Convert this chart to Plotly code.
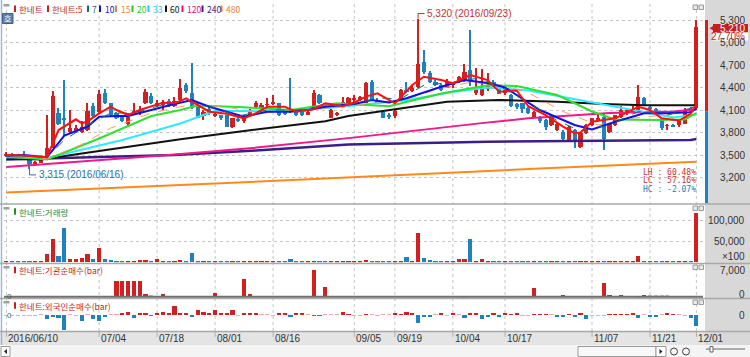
import plotly.graph_objects as go

# ---------------- data ----------------
TICK_IDX = [0, 16, 26, 36, 46, 60, 67, 77, 86, 101, 111, 119]
TICK_LABELS = ["2016/06/10", "07/04", "07/18", "08/01", "08/16", "09/05",
               "09/19", "10/04", "10/17", "11/07", "11/21", "12/01"]

OPEN = [3500,3520,3490,3490,3450,3370,3400,3460,3600,4060, 4000,3810,3820,3810,3840,4150,4080,4330,4190,4060,
        4010,3910,4050,4060,4200,4290,4160,4170,4220,4160, 4240,4440,4330,4170,4020,4110,4030,4030,4030,3880,
        3980,3950,4040,4140,4130,4170,4180,4190,4070,4110, 4090,4070,4040,4140,4300,4190,4000,4040,4170,4190,
        4230,4240,4200,4480,4240,4070,4030,4020,4240,4360, 4350,4410,4740,4590,4480,4430,4400,4440,4480,4500,
        4630,4330,4300,4380,4480,4390,4330,4300,4180,4190, 4130,4010,4010,3970,3900,3830,3810,3700,3830,3610,
        3790,3900,3960,4010,3810,3900,4010,4060,4080,4100, 4260,4140,4110,3990,3890,3900,3900,3920,4110,4130]
HIGH = [3540,3530,3510,3560,3460,3420,3450,4030,4350,4130, 4500,4100,3900,3950,4190,4200,4370,4380,4200,4080,
        4030,4060,4190,4160,4380,4330,4230,4230,4250,4270, 4510,4460,4730,4190,4100,4150,4080,4040,4040,4000,
        4010,4030,4110,4220,4190,4260,4300,4200,4090,4530, 4110,4080,4090,4370,4320,4200,4110,4080,4270,4280,
        4300,4290,4470,4500,4260,4090,4060,4100,4380,4470, 4420,5320,4900,4620,4500,4450,4510,4480,4560,4720,
        5170,4660,4650,4600,4500,4400,4390,4310,4200,4200, 4140,4090,4020,3980,4020,3930,3830,3890,3850,3800,
        3920,4000,4050,4060,3930,4040,4150,4120,4150,4430, 4280,4160,4130,4000,3910,3910,3980,4130,4140,5300]
LOW = [3480,3470,3460,3470,3315,3350,3390,3450,3590,3900, 3750,3790,3800,3800,3820,4000,4060,4180,4020,3980,
       3940,3880,4040,4040,4180,4180,4140,4100,4140,4140, 4220,4330,4120,3990,3970,4040,4010,3970,3870,3860,
       3940,3930,4030,4120,4110,4110,4170,4020,4040,4060, 4020,4020,4030,4130,4180,4120,3990,4020,4160,4180,
       4200,4220,4190,4220,4180,3990,3980,4000,4220,4330, 4340,4400,4580,4460,4420,4360,4390,4400,4460,4480,
       4420,4300,4290,4360,4400,4310,4300,4140,4120,4060, 4050,4000,3930,3840,3890,3820,3700,3690,3600,3600,
       3780,3890,3950,3570,3800,3890,4000,4040,4060,4090, 4160,4100,4060,3840,3830,3870,3880,3910,4070,4100]
CLOSE = [3520,3490,3480,3480,3380,3410,3440,3590,4290,3920, 3975,3860,3860,3880,4090,4020,4320,4200,4040,4000,
         3960,4010,4090,4090,4340,4200,4200,4210,4160,4220, 4400,4350,4130,4000,4080,4060,4050,3990,3880,3990,
         3960,4010,4090,4190,4170,4180,4210,4040,4050,4080, 4040,4030,4080,4330,4190,4130,4100,4060,4210,4260,
         4260,4270,4460,4240,4200,4000,4010,4090,4370,4350, 4400,4720,4610,4480,4440,4370,4470,4460,4540,4610,
         4500,4400,4410,4420,4420,4320,4370,4150,4140,4120, 4060,4080,3950,3880,4010,3920,3720,3880,3680,3790,
         3900,3990,4000,3720,3920,4030,4100,4100,4120,4270, 4170,4110,4080,3860,3900,3880,3960,4100,4080,5210]

VOLUME = [1500,1000,800,1500,2000,800,1000,19000,55000,14000, 82000,8800,7500,10000,20600,8800,34000,7500,5000,3000,
          3000,3000,3000,4500,4500,3000,7000,2500,2000,2000, 6000,2500,22000,3000,2000,1500,1500,1500,1500,1500,
          1500,2500,2000,2000,2000,2000,2000,1500,1500,7000, 2000,1500,1500,4000,2000,2000,1500,1500,2000,2000,
          2000,2000,5000,4000,1500,1500,1500,2000,4000,12600, 2500,70000,9500,6000,3000,3000,2000,3000,8000,9000,
          55000,3500,8000,4000,1500,1500,1500,1500,1500,1500, 1500,1500,1500,1500,1500,1500,2500,1500,1500,1500,
          2000,1500,1500,2500,1500,1500,1500,1500,2000,14000, 3000,1500,1500,1500,1500,1500,1500,2500,1500,117000]

INST_IDX = [19,20,21,22,23,24,25,27,36,41,42,43,53,55,58,79,91,96,103,104,106,109,110,111,112,113,114]
INST_VAL = [4100,4000,4000,4100,4050,600,200,800,1100,4640,700,150,7000,2470,150,-150,2200,400,3500,400,400,
            -150,400,200,200,200,200]

FOREIGN = [-0.5,-0.5,-0.5,-0.5,-0.5,-0.5,0.5,-4,-2.3,-3.3, -15,0.3,-0.5,-5.7,0.5,-4.3,-5.7,-1.7,0.5,0.5,
           1.3,2.7,-2.7,1.7,1.7,-1,1.7,2.7,1.7,9, 1.7,1.3,-2.3,5,3.3,1.3,5,1.3,1.7,5,
           -0.5,1.3,1.7,2.3,0.7,0.7,-0.5,1.7,1.3,-1.3, 1.3,1.7,0.5,-1,-1,0.5,0.3,0.3,2.7,1,
           -0.5,-0.5,1,0.5,-0.5,0.5,0.5,1.3,1,3.3, 1.3,-8.3,-1.7,-1.3,0.5,1.7,-0.5,1.7,0.5,-2.7,
           1.3,1.3,-4,-1.3,1.7,-1.3,1.3,1,1.3,-0.5, -0.5,1,1,1,0.5,-1.3,-1.3,1,-1.3,1.3,
           -4,-0.5,-0.5,-0.5,1,1,1,1,1.3,-2.7, 0.5,-1.3,-1.3,0.5,1.3,1,0.5,-0.5,-2.7,-11]

MA5_IDX = [0,3,7,9,12,13,14,16,18,19,21,23,27,29,31,33,35,38,41,43,45,48,50,53,55,58,60,62,64,67,
           70,72,75,77,80,83,85,88,90,93,96,98,99,101,105,109,111,113,116,118,119]
MA5_VAL = [3500,3495,3470,3833,3976,3922,3950,4056,4144,4100,4033,4100,4198,4189,4256,4167,4078,4050,3989,4056,
           4144,4144,4078,4110,4189,4150,4200,4278,4322,4189,4433,4544,4500,4456,4567,4500,4344,4360,4150,4033,
           3878,3790,3800,3944,3989,4144,4100,3989,3960,4050,4180]
MA7_IDX = [0,7,10,14,18,22,27,31,35,40,45,50,55,60,64,68,72,77,81,85,90,95,99,104,109,114,119]
MA7_VAL = [3495,3470,3700,3900,4060,4060,4170,4220,4150,4020,4100,4100,4160,4180,4260,4250,4430,4470,4520,
           4420,4200,3960,3820,3900,4080,4030,4150]
MA10_IDX = [0,3,7,10,14,16,19,21,24,27,29,32,35,41,45,49,52,55,60,63,66,69,75,79,83,86,92,98,101,105,
            110,114,118,119]
MA10_VAL = [3490,3500,3470,3760,3880,4010,4020,4020,4080,4144,4180,4233,4144,4011,4078,4078,4100,4144,4180,4233,
            4200,4256,4411,4500,4460,4400,4100,3900,3840,3944,4056,4056,4070,4122]
MA15_IDX = [0,7,13,18,25,31,37,44,50,57,63,68,74,80,85,90,96,102,108,114,119]
MA15_VAL = [3490,3450,3640,3860,4060,4160,4150,4060,4090,4140,4180,4220,4370,4470,4440,4330,4080,3900,3990,
            4040,4080]
MA20_IDX = [0,7,16,25,30,33,40,49,57,66,75,83,88,95,101,105,112,117,119]
MA20_VAL = [3480,3440,3720,4020,4100,4160,4140,4100,4190,4150,4320,4430,4420,4300,4080,3975,3967,3975,4060]
MA33_IDX = [0,7,20,30,36,45,56,69,77,83,90,100,110,115,119]
MA33_VAL = [3470,3460,3700,3920,4090,4080,4130,4230,4340,4400,4360,4220,4070,4000,4040]
MA60_IDX = [0,6,13,20,30,42,55,59,68,76,85,95,103,110,119]
MA60_VAL = [3450,3440,3520,3600,3710,3830,3950,4020,4120,4210,4235,4210,4180,4165,4165]
MA120_IDX = [0,28,42,59,82,90,104,115,119]
MA120_VAL = [3340,3500,3590,3725,3925,3990,4060,4080,4110]
MA240_IDX = [0,29,43,59,83,118,119]
MA240_VAL = [3440,3500,3560,3640,3678,3700,3712]
MA480_IDX = [0,41,93,119]
MA480_VAL = [3000,3136,3322,3410]

PRICE_TICKS = [3200, 3500, 3800, 4100, 4400, 4700, 5000, 5300]
VOL_TICKS = [50000, 100000]
INST_TICKS = [0, 7000]
PREV_CLOSE = 4080
UPPER_LIMIT = 5300
HIGH_DATE = "2016/09/23"
LOW_DATE = "2016/06/16"

# ---------------- geometry helpers ----------------
W, H = 750, 357
def PX(x):
    return x / W
def PY(y):
    return 1 - y / H

RED = "#d02020"
BLUE = "#1e82be"
PALE_RED = "#f0a8a8"
PALE_BLUE = "#9ccbe8"
GRID = "#c4c4c4"
N = len(CLOSE)
IDX = list(range(N))
XR = [-0.41, 120.14]
PR = [2860, 5527]
P_DOM = [PY(203), PY(3)]
PPX = (PR[1] - PR[0]) / 200.0  # price per pixel

def price_paper(p):
    return P_DOM[0] + (p - PR[0]) / (PR[1] - PR[0]) * (P_DOM[1] - P_DOM[0])

up = [c >= o for o, c in zip(OPEN, CLOSE)]
ccol = [RED if u else BLUE for u in up]

fig = go.Figure()

# candles: wicks then bodies
fig.add_trace(go.Bar(x=IDX, y=[h - l for h, l in zip(HIGH, LOW)], base=LOW, width=0.2,
                     marker=dict(color=ccol, line=dict(width=0)), xaxis="x", yaxis="y", hoverinfo="skip"))
fig.add_trace(go.Bar(x=IDX, y=[max(abs(c - o), 10) for o, c in zip(OPEN, CLOSE)],
                     base=[min(o, c) for o, c in zip(OPEN, CLOSE)], width=0.72,
                     marker=dict(color=ccol, line=dict(width=0)), xaxis="x", yaxis="y", hoverinfo="skip"))

# moving averages
MA_STYLE = [
    (MA480_IDX, MA480_VAL, "#ff8a1c", 2, "solid"),
    (MA240_IDX, MA240_VAL, "#3b1f86", 2.5, "solid"),
    (MA120_IDX, MA120_VAL, "#f0188a", 2, "solid"),
    (MA60_IDX, MA60_VAL, "#111111", 2, "solid"),
    (MA33_IDX, MA33_VAL, "#30e8ff", 2, "solid"),
    (MA20_IDX, MA20_VAL, "#30e030", 2, "solid"),
    (MA15_IDX, MA15_VAL, "#ff9a6a", 1, "dash"),
    (MA10_IDX, MA10_VAL, "#1010e8", 2, "solid"),
    (MA7_IDX, MA7_VAL, "#107070", 1, "dash"),
    (MA5_IDX, MA5_VAL, "#ff1010", 2, "solid"),
]
for xs, ys, col, w, dash in MA_STYLE:
    fig.add_trace(go.Scatter(x=xs, y=ys, mode="lines", line=dict(color=col, width=w, dash=dash),
                             xaxis="x", yaxis="y", hoverinfo="skip"))

# volume
fig.add_trace(go.Bar(x=IDX, y=VOLUME, width=0.72, marker=dict(color=ccol, line=dict(width=0)),
                     xaxis="x2", yaxis="y2", hoverinfo="skip"))
# institutional
icol = [RED if v >= 300 else (PALE_RED if v > 0 else PALE_BLUE) for v in INST_VAL]
fig.add_trace(go.Bar(x=INST_IDX, y=INST_VAL, width=0.72, marker=dict(color=icol, line=dict(width=0)),
                     xaxis="x3", yaxis="y3", hoverinfo="skip"))
# foreign
fcol = [(RED if v > 0 else BLUE) if abs(v) >= 1 else (PALE_RED if v > 0 else PALE_BLUE) for v in FOREIGN]
fig.add_trace(go.Bar(x=IDX, y=FOREIGN, width=0.72, marker=dict(color=fcol, line=dict(width=0)),
                     xaxis="x4", yaxis="y4", hoverinfo="skip"))

xdom = [PX(4), PX(703)]
common_x = dict(domain=xdom, range=XR, showticklabels=False, showgrid=False, zeroline=False,
                showline=False, ticks="", fixedrange=True)
shapes = []
ann = []
NUMF = "Liberation Sans"

# background panels
shapes.append(dict(type="rect", xref="paper", yref="paper", x0=PX(705), x1=1, y0=PY(345), y1=1,
                   fillcolor="#d8d8d8", line=dict(width=0), layer="below"))
shapes.append(dict(type="rect", xref="paper", yref="paper", x0=0, x1=PX(705), y0=PY(345), y1=PY(332),
                   fillcolor="#e4e4e4", line=dict(width=0), layer="below"))
shapes.append(dict(type="rect", xref="paper", yref="paper", x0=0, x1=1, y0=0, y1=PY(345),
                   fillcolor="#f4f4f4", line=dict(width=0), layer="below"))
# left window border
shapes.append(dict(type="line", xref="paper", yref="paper", x0=PX(1.5), x1=PX(1.5), y0=PY(345), y1=1,
                   line=dict(color="#9cb8d8", width=1.5)))
# vertical dotted grid + date labels
for t, lab in zip(TICK_IDX, TICK_LABELS):
    shapes.append(dict(type="line", xref="x", yref="paper", x0=t, x1=t, y0=PY(331), y1=PY(3),
                       line=dict(color=GRID, width=1, dash="dot"), layer="below"))
    shapes.append(dict(type="line", xref="x", yref="paper", x0=t, x1=t, y0=PY(337), y1=PY(332),
                       line=dict(color="#b0b0b0", width=1)))
    ann.append(dict(x=t, xref="x", y=PY(338), yref="paper", text=lab,
                    showarrow=False, xanchor="left", yanchor="middle",
                    font=dict(family=NUMF, size=10, color="#333333")))
# panel separators
for yy in [204, 263.5, 298.5, 331.5]:
    shapes.append(dict(type="line", xref="paper", yref="paper", x0=0, x1=1, y0=PY(yy), y1=PY(yy),
                       line=dict(color="#a8a8a8", width=1.5)))
# institutional zero line
shapes.append(dict(type="line", xref="paper", yref="y3", x0=xdom[0], x1=xdom[1], y0=0, y1=0,
                   line=dict(color="#707070", width=2)))

# price axis labels
for p in PRICE_TICKS:
    ann.append(dict(x=PX(747), xref="paper", y=p, yref="y", text=f"{p:,}", showarrow=False,
                    xanchor="right", yanchor="middle", font=dict(family=NUMF, size=10, color="#333333")))
for v in VOL_TICKS:
    ann.append(dict(x=PX(747), xref="paper", y=v, yref="y2", text=f"{v:,}", showarrow=False,
                    xanchor="right", yanchor="middle", font=dict(family=NUMF, size=10, color="#333333")))
ann.append(dict(x=PX(747), xref="paper", y=PY(256.5), yref="paper", text="×100", showarrow=False,
                xanchor="right", yanchor="middle", font=dict(family=NUMF, size=10, color="#333333")))
for v in INST_TICKS:
    ann.append(dict(x=PX(747), xref="paper", y=v, yref="y3", text=f"{v:,}", showarrow=False,
                    xanchor="right", yanchor="middle", yshift=2 if v == 0 else 0,
                    font=dict(family=NUMF, size=10, color="#333333")))
ann.append(dict(x=PX(747), xref="paper", y=0, yref="y4", text="0", showarrow=False,
                xanchor="right", yanchor="middle", font=dict(family=NUMF, size=10, color="#333333")))
for yr in ["y3", "y4"]:
    ann.append(dict(x=PX(5), xref="paper", y=0, yref=yr, text="0", showarrow=False,
                    xanchor="left", yanchor="middle", font=dict(family=NUMF, size=8, color="#555555")))

# current price marker and day-range bar
last = CLOSE[-1]
prev = CLOSE[-2]
chg = (last - prev) / prev * 100
shapes.append(dict(type="rect", xref="paper", yref="paper", x0=PX(705), x1=PX(708),
                   y0=price_paper(PREV_CLOSE), y1=price_paper(UPPER_LIMIT), fillcolor=RED, line=dict(width=0)))
shapes.append(dict(type="rect", xref="paper", yref="paper", x0=PX(705), x1=PX(708),
                   y0=P_DOM[0], y1=price_paper(PREV_CLOSE), fillcolor=BLUE, line=dict(width=0)))
yc = price_paper(last) - 1.5 / H
shapes.append(dict(type="rect", xref="paper", yref="paper", x0=PX(713), x1=PX(748),
                   y0=yc - 4.3 / H, y1=yc + 4.3 / H, fillcolor="#c81e1e", line=dict(width=0)))
shapes.append(dict(type="rect", xref="paper", yref="paper", x0=PX(713), x1=PX(748),
                   y0=yc - 12.3 / H, y1=yc - 4.3 / H, fillcolor="#ffffff", line=dict(width=0)))
shapes.append(dict(type="path", xref="paper", yref="paper",
                   path=f"M {PX(714.5)},{yc + 3 / H} L {PX(709.5)},{yc} L {PX(714.5)},{yc - 3 / H} Z",
                   fillcolor="#c81e1e", line=dict(width=0)))
ann.append(dict(x=PX(747), xref="paper", y=yc, yref="paper", text=f"{last:,}", showarrow=False,
                xanchor="right", yanchor="middle", font=dict(family=NUMF, size=10, color="#ffffff")))
ann.append(dict(x=PX(747), xref="paper", y=yc - 8.3 / H, yref="paper", text=f"{chg:.2f}%", showarrow=False,
                xanchor="right", yanchor="middle", font=dict(family=NUMF, size=10, color="#c81e1e")))

# high / low markers
hmax = max(HIGH); imax = HIGH.index(hmax)
lmin = min(LOW); imin = LOW.index(lmin)
hy = hmax + 5 * PPX
shapes.append(dict(type="line", xref="x", yref="y", x0=imax, x1=imax, y0=hmax, y1=hy,
                   line=dict(color="#c03030", width=1)))
shapes.append(dict(type="line", xref="x", yref="y", x0=imax, x1=imax + 1.1, y0=hy, y1=hy,
                   line=dict(color="#c03030", width=1)))
ann.append(dict(x=imax + 1.2, xref="x", y=hy, yref="y", text=f"{hmax:,} ({HIGH_DATE})", showarrow=False,
                xanchor="left", yanchor="middle", font=dict(family=NUMF, size=10, color="#c03030")))
ly = lmin - 6 * PPX
shapes.append(dict(type="line", xref="x", yref="y", x0=imin, x1=imin, y0=lmin, y1=ly,
                   line=dict(color="#2a6fb0", width=1)))
shapes.append(dict(type="line", xref="x", yref="y", x0=imin, x1=imin + 1.1, y0=ly, y1=ly,
                   line=dict(color="#2a6fb0", width=1)))
ann.append(dict(x=imin + 1.2, xref="x", y=ly, yref="y", text=f"{lmin:,} ({LOW_DATE})", showarrow=False,
                xanchor="left", yanchor="middle", font=dict(family=NUMF, size=10, color="#2a6fb0")))

# LH / LC / HC stats
stats = [("LH", (hmax - lmin) / lmin * 100, "#d03030"),
         ("LC", (last - lmin) / lmin * 100, "#d03030"),
         ("HC", (last - hmax) / hmax * 100, "#2080c0")]
for k, (lab, val, col) in enumerate(stats):
    ann.append(dict(x=PX(698), xref="paper", y=PY(172.5 + 8.3 * k), yref="paper",
                    text=f"{lab} : {val:.2f}%", showarrow=False, xanchor="right", yanchor="middle",
                    font=dict(family="DejaVu Sans Mono", size=8, color=col)))

# legend items (top-left)
KR = "Noto Sans CJK KR"
LEG = [(14, 16.5, "한네트", "#c81e1e"), (47, 50, "한네트:5", "#c81e1e"), (87, 90, "7", "#107070"),
       (99, 102.5, "10", "#1010e0"), (115, 118.5, "15", "#f08040"), (131.5, 135, "20", "#20c820"),
       (147.5, 151, "33", "#20c8f0"), (165, 168, "60", "#111111"), (181.5, 184.5, "120", "#e0107f"),
       (201.5, 204.5, "240", "#402080"), (220.5, 224, "480", "#f08020")]
for mx, tx, txt, col in LEG:
    shapes.append(dict(type="rect", xref="paper", yref="paper", x0=PX(mx), x1=PX(mx + 2),
                       y0=PY(12), y1=PY(5.5), fillcolor=col, line=dict(width=0)))
    ann.append(dict(x=PX(tx), xref="paper", y=PY(8.8), yref="paper", text=txt, showarrow=False,
                    xanchor="left", yanchor="middle", font=dict(family=KR, size=8.5, color=col)))
# panel titles
for yy, txt, col in [(211.5, "한네트:거래량", "#2a8a2a"), (270, "한네트:기관순매수(bar)", "#c81e1e"),
                     (305.5, "한네트:외국인순매수(bar)", "#c81e1e")]:
    shapes.append(dict(type="rect", xref="paper", yref="paper", x0=PX(14), x1=PX(16),
                       y0=PY(yy + 3.2), y1=PY(yy - 3.2), fillcolor=col, line=dict(width=0)))
    ann.append(dict(x=PX(17), xref="paper", y=PY(yy), yref="paper", text=txt, showarrow=False,
                    xanchor="left", yanchor="middle", font=dict(family=KR, size=8.5, color=col)))
# small window icons
for yy in [4, 207, 266, 301]:
    shapes.append(dict(type="rect", xref="paper", yref="paper", x0=PX(3.5), x1=PX(9.5),
                       y0=PY(yy + 2.5), y1=PY(yy), fillcolor="#a0a0a0", line=dict(width=0)))
for yy in [5, 206, 265, 300]:
    for xx in [693, 699]:
        shapes.append(dict(type="rect", xref="paper", yref="paper", x0=PX(xx), x1=PX(xx + 4.5),
                           y0=PY(yy + 4.5), y1=PY(yy), fillcolor="#e8e8e8",
                           line=dict(color="#9a9a9a", width=1)))
# "호" box
shapes.append(dict(type="rect", xref="paper", yref="paper", x0=PX(2.5), x1=PX(13), y0=PY(23.5), y1=PY(13.5),
                   fillcolor="#5d82ad", line=dict(color="#3f5f88", width=1)))
ann.append(dict(x=PX(7.8), xref="paper", y=PY(18.5), yref="paper", text="호", showarrow=False,
                xanchor="center", yanchor="middle", font=dict(family=KR, size=8, color="#ffffff")))
# bottom scroll bar widgets
shapes.append(dict(type="rect", xref="paper", yref="paper", x0=PX(1), x1=PX(10), y0=PY(356.5), y1=PY(346.5),
                   fillcolor="#ffffff", line=dict(color="#9a9a9a", width=1)))
shapes.append(dict(type="path", xref="paper", yref="paper",
                   path=f"M {PX(7)},{PY(349)} L {PX(4)},{PY(351.5)} L {PX(7)},{PY(354)} Z",
                   fillcolor="#222222", line=dict(width=0)))
shapes.append(dict(type="rect", xref="paper", yref="paper", x0=PX(578), x1=PX(656), y0=PY(356.5), y1=PY(346.5),
                   fillcolor="#f8f8f8", line=dict(color="#9a9a9a", width=1)))
shapes.append(dict(type="rect", xref="paper", yref="paper", x0=PX(656), x1=PX(666), y0=PY(356.5), y1=PY(346.5),
                   fillcolor="#ffffff", line=dict(color="#9a9a9a", width=1)))
shapes.append(dict(type="path", xref="paper", yref="paper",
                   path=f"M {PX(659.5)},{PY(349)} L {PX(662.5)},{PY(351.5)} L {PX(659.5)},{PY(354)} Z",
                   fillcolor="#222222", line=dict(width=0)))
for cx in [674, 686]:
    shapes.append(dict(type="circle", xref="paper", yref="paper", x0=PX(cx - 3.5), x1=PX(cx + 3.5),
                       y0=PY(355), y1=PY(348), line=dict(color="#444444", width=1)))
shapes.append(dict(type="line", xref="paper", yref="paper", x0=PX(706), x1=PX(745), y0=PY(349), y1=PY(349),
                   line=dict(color="#666666", width=1)))
shapes.append(dict(type="rect", xref="paper", yref="paper", x0=PX(710), x1=PX(713), y0=PY(352), y1=PY(346.5),
                   fillcolor="#ffffff", line=dict(color="#666666", width=1)))

fig.update_layout(
    width=W, height=H, margin=dict(l=0, r=0, t=0, b=0),
    paper_bgcolor="#ffffff", plot_bgcolor="#ffffff",
    showlegend=False, barmode="overlay", bargap=0,
    xaxis=dict(**common_x, anchor="y"),
    xaxis2=dict(**common_x, anchor="y2", matches="x"),
    xaxis3=dict(**common_x, anchor="y3", matches="x"),
    xaxis4=dict(**common_x, anchor="y4", matches="x"),
    yaxis=dict(domain=P_DOM, range=PR, tickvals=PRICE_TICKS, showticklabels=False, showgrid=True,
               gridcolor=GRID, griddash="dot", zeroline=False, ticks="", fixedrange=True),
    yaxis2=dict(domain=[PY(262.3), PY(205)], range=[0, 136400], tickvals=VOL_TICKS, showticklabels=False,
                showgrid=True, gridcolor=GRID, griddash="dot", zeroline=False, ticks="", fixedrange=True),
    yaxis3=dict(domain=[PY(299), PY(265)], range=[-603, 8311], showticklabels=False, showgrid=False,
                zeroline=False, ticks="", fixedrange=True),
    yaxis4=dict(domain=[PY(331), PY(300)], range=[-16, 15], showticklabels=False, showgrid=False,
                zeroline=False, ticks="", fixedrange=True),
    shapes=shapes, annotations=ann,
)

fig.write_html("out.html", config={"displayModeBar": False},
               post_script="document.body.style.margin='0px';document.body.style.overflow='hidden';")
